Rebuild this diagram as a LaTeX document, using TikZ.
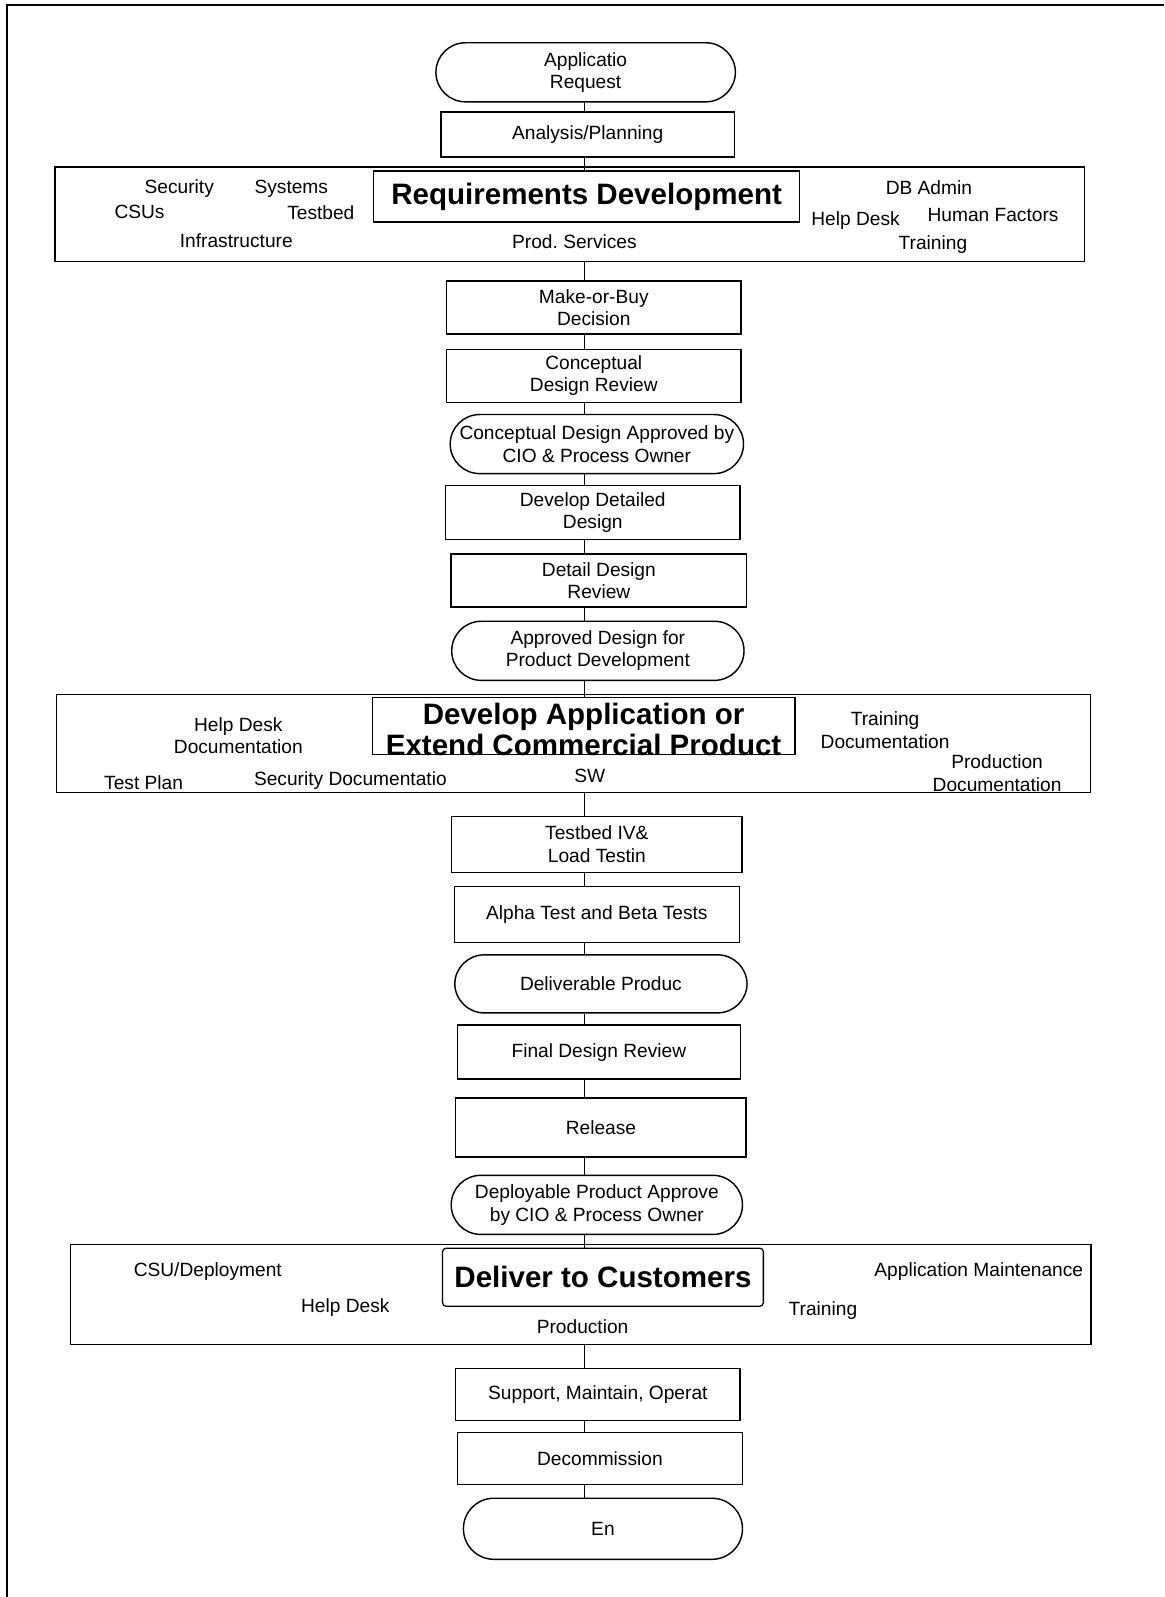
\documentclass[tikz,border=0pt]{standalone}
\usepackage{fontspec}
\setmainfont{Liberation Sans}
\usepackage{tikz}
\usetikzlibrary{shapes.misc}
\tikzstyle{terminal} = [rectangle, rounded corners=0.58cm, minimum width=5.76cm, minimum height=1.16cm, text centered, align=center, draw=black, line width=0.8pt]
\tikzstyle{process} = [rectangle, minimum width=5.78cm, minimum height=1.04cm, text centered, align=center, draw=black, line width=0.8pt]
\tikzstyle{stage} = [rectangle, minimum width=20.2cm, minimum height=1.9cm, draw=black, line width=0.8pt]
\tikzstyle{heading} = [rectangle, inner sep=0pt, align=center, draw=black, line width=0.7pt, font=\fontsize{16.5}{17.6}\selectfont\bfseries]
\tikzstyle{tag} = [inner sep=0pt, align=center]
\tikzstyle{line} = [line width=0.5pt]

\begin{document}
\begin{tikzpicture}[node distance=1.34cm, font=\fontsize{10.7}{12.5}\selectfont]

    \useasboundingbox (0,0) rectangle (22.86,-31.36);
    \draw [line width=1.4pt] (0.14,-31.36) -- (0.14,-0.10) -- (22.86,-0.10);
    \coordinate (spine) at (11.48,0);

    % Nodes
    \node (request) [terminal, minimum width=5.88cm] at (11.5,-1.42) {Applicatio\\Request};
    \node (analysis) [process, minimum width=5.76cm, minimum height=0.88cm, below of=request, yshift=0.12cm, xshift=0.04cm] {Analysis/Planning};
    \node (reqtitle) [heading, minimum width=8.36cm, minimum height=1cm, below of=analysis, yshift=0.12cm, xshift=-0.02cm] {Requirements Development};
    \node (reqframe) [stage, minimum width=20.22cm, minimum height=1.86cm, node distance=0.35cm, below of=reqtitle, xshift=-0.33cm] {};
    \node (makebuy) [process, below of=reqtitle, yshift=-0.84cm, xshift=0.14cm] {Make-or-Buy\\Decision};
    \node (cdreview) [process, below of=makebuy] {Conceptual\\Design Review};
    \node (cdapproved) [terminal, below of=cdreview, xshift=0.06cm] {Conceptual Design Approved by\\CIO \& Process Owner};
    \node (detailed) [process, minimum height=1.06cm, below of=cdapproved, xshift=-0.08cm] {Develop Detailed\\Design};
    \node (ddreview) [process, minimum width=5.8cm, below of=detailed, xshift=0.12cm] {Detail Design\\Review};
    \node (approved) [terminal, minimum width=5.74cm, below of=ddreview, yshift=-0.04cm, xshift=-0.02cm] {Approved Design for\\Product Development};
    \node (devtitle) [heading, minimum width=8.3cm, minimum height=1.12cm, below of=approved, yshift=-0.14cm, xshift=-0.28cm] {};
    \node (devframe) [stage, minimum width=20.3cm, minimum height=1.92cm, node distance=0.34cm, below of=devtitle, xshift=-0.2cm] {};
    \node (devtext) [tag, font=\fontsize{16.5}{17.6}\selectfont\bfseries, node distance=0.06cm, below of=devtitle] {Develop Application or\\Extend Commercial Product};
    \node (testbed) [process, minimum width=5.7cm, minimum height=1.1cm, below of=devtitle, yshift=-0.98cm, xshift=0.26cm] {Testbed IV\&\\Load Testin};
    \node (alpha) [process, minimum width=5.6cm, minimum height=1.1cm, below of=testbed, yshift=-0.04cm] {Alpha Test and Beta Tests};
    \node (deliverable) [terminal, minimum width=5.74cm, minimum height=1.14cm, below of=alpha, yshift=-0.02cm, xshift=0.08cm] {Deliverable Produc};
    \node (finalreview) [process, minimum width=5.56cm, minimum height=1.06cm, below of=deliverable, xshift=-0.04cm] {Final Design Review};
    \node (release) [process, minimum width=5.7cm, minimum height=1.16cm, below of=finalreview, yshift=-0.14cm, xshift=0.04cm] {Release};
    \node (deployable) [terminal, minimum width=5.72cm, below of=release, yshift=-0.18cm, xshift=-0.08cm] {Deployable Product Approve\\by CIO \& Process Owner};
    \node (deltitle) [heading, rounded corners=2pt, minimum width=6.3cm, minimum height=1.14cm, below of=deployable, yshift=-0.08cm, xshift=0.12cm] {Deliver to Customers};
    \node (delframe) [stage, minimum width=20.04cm, minimum height=1.96cm, node distance=0.34cm, below of=deltitle, xshift=-0.44cm] {};
    \node (support) [process, minimum width=5.58cm, minimum height=1.02cm, below of=deltitle, yshift=-0.96cm, xshift=-0.10cm] {Support, Maintain, Operat};
    \node (decommission) [process, minimum width=5.6cm, minimum height=1.02cm, below of=support, yshift=0.08cm, xshift=0.04cm] {Decommission};
    \node (finish) [terminal, minimum width=5.48cm, minimum height=1.2cm, rounded corners=0.6cm, below of=decommission, yshift=-0.04cm, xshift=0.06cm] {En};

    % Requirements groups
    \node (security) [tag] at (3.52,-3.70) {Security};
    \node (systems) [tag] at (5.72,-3.70) {Systems};
    \node (csus) [tag] at (2.74,-4.16) {CSUs};
    \node (testbedgrp) [tag] at (6.30,-4.18) {Testbed};
    \node (infra) [tag] at (4.64,-4.72) {Infrastructure};
    \node (prodsvc) [tag] at (11.28,-4.74) {Prod.\ Services};
    \node (dbadmin) [tag] at (18.24,-3.68) {DB Admin};
    \node (helpdesk1) [tag] at (16.80,-4.34) {Help Desk};
    \node (humanf) [tag] at (19.50,-4.22) {Human Factors};
    \node (training1) [tag] at (18.32,-4.80) {Training};

    % Development groups
    \node (helpdoc) [tag] at (4.68,-14.44) {Help Desk\\Documentation};
    \node (testplan) [tag] at (2.82,-15.36) {Test Plan};
    \node (secdoc) [tag] at (6.88,-15.32) {Security Documentatio};
    \node (sw) [tag] at (11.58,-15.24) {SW};
    \node (traindoc) [tag] at (17.38,-14.34) {Training\\Documentation};
    \node (proddoc) [tag] at (19.58,-15.18) {Production\\Documentation};

    % Delivery groups
    \node (csudeploy) [tag] at (4.08,-24.96) {CSU/Deployment};
    \node (helpdesk2) [tag] at (6.78,-25.68) {Help Desk};
    \node (production) [tag] at (11.44,-26.06) {Production};
    \node (training2) [tag] at (16.16,-25.74) {Training};
    \node (appmaint) [tag] at (19.22,-24.96) {Application Maintenance};

    % Lines
    \draw [line] (request.south -| spine) -- (analysis.north -| spine);
    \draw [line] (analysis.south -| spine) -- (reqtitle.north -| spine);
    \draw [line] (reqframe.south -| spine) -- (makebuy.north -| spine);
    \draw [line] (makebuy.south -| spine) -- (cdreview.north -| spine);
    \draw [line] (cdreview.south -| spine) -- (cdapproved.north -| spine);
    \draw [line] (cdapproved.south -| spine) -- (detailed.north -| spine);
    \draw [line] (detailed.south -| spine) -- (ddreview.north -| spine);
    \draw [line] (ddreview.south -| spine) -- (approved.north -| spine);
    \draw [line] (approved.south -| spine) -- (devtitle.north -| spine);
    \draw [line] (devframe.south -| spine) -- (testbed.north -| spine);
    \draw [line] (testbed.south -| spine) -- (alpha.north -| spine);
    \draw [line] (alpha.south -| spine) -- (deliverable.north -| spine);
    \draw [line] (deliverable.south -| spine) -- (finalreview.north -| spine);
    \draw [line] (finalreview.south -| spine) -- (release.north -| spine);
    \draw [line] (release.south -| spine) -- (deployable.north -| spine);
    \draw [line] (deployable.south -| spine) -- (deltitle.north -| spine);
    \draw [line] (delframe.south -| spine) -- (support.north -| spine);
    \draw [line] (support.south -| spine) -- (decommission.north -| spine);
    \draw [line] (decommission.south -| spine) -- (finish.north -| spine);

\end{tikzpicture}
\end{document}
